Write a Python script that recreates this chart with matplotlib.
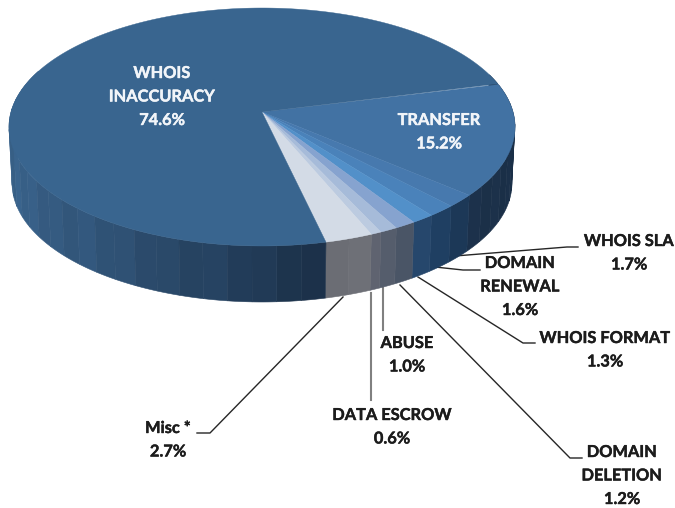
import numpy as np
import matplotlib
matplotlib.use("Agg")
import matplotlib.pyplot as plt
import matplotlib.patheffects as pe
from matplotlib.colors import to_rgb

# Slice data, clockwise from the top of the TRANSFER slice
categories = ["TRANSFER", "WHOIS SLA", "DOMAIN\nRENEWAL", "WHOIS FORMAT", "DOMAIN\nDELETION",
              "ABUSE", "DATA ESCROW", "Misc *", "WHOIS\nINACCURACY"]
shares = [15.2, 1.7, 1.6, 1.3, 1.2, 1.0, 0.6, 2.7, 74.6]

top_colors = ["#4272a3", "#4779ae", "#4a82ba", "#5290c9", "#86a3cf", "#a6bbd9", "#bccbe0", "#d3dbe6", "#39658f"]
side_colors = ["#1b3049", "#1c3857", "#1f3f62", "#26476c", "#4a5566", "#555d6c", "#5f6370", "#6e7077", "#2a4d72"]

label_xy = [(439, 121), (629, 242), (520, 264), (605, 339), (622, 453), (407, 344), (392, 416), (168, 429), (162, 74)]
leaders = [
    None,
    [(455, 256), (567, 247), (578, 247)],
    [(435, 267), (463, 270), (480, 270)],
    [(418, 277), (523, 343), (535, 343)],
    [(400, 285), (570, 458), (582, 458)],
    [(383, 288), (383, 330)],
    [(371, 293), (371, 400)],
    [(343, 297), (210, 433), (197, 433)],
    None,
]

# Perspective of the pie, in pixels
HUB_X, HUB_Y = 262, 112
SCALE_X, SCALE_Y = 251, 117.1
TILT = 0.126
DEPTH = 56
START = 14
LINE_STEP = 23.5

plt.rcParams["font.family"] = ["Lato", "DejaVu Sans"]


def rim(phi, depth=0):
    """Project a point of the pie's rim (angle in degrees) to the picture."""
    a = np.radians(phi)
    w = 1 + TILT * np.sin(a)
    shrink = 1 - 0.012 * depth / DEPTH
    return HUB_X + SCALE_X * shrink * np.cos(a) / w, HUB_Y + depth - SCALE_Y * np.sin(a) / w


def shade(color, amount):
    return tuple(min(1, c * amount) for c in to_rgb(color))


fig = plt.figure(figsize=(6.75, 5.08), dpi=100)
ax = fig.add_axes([0, 0, 1, 1])
ax.set_xlim(0, 675)
ax.set_ylim(508, 0)
ax.axis("off")

edges = START - np.cumsum([0] + shares) * 3.6
band_shades = [1.0, 0.975, 1.02, 0.99, 1.03, 0.97]

# Side of the pie, painted from the back to the front
facets = []
for i in range(len(shares)):
    hi, lo = edges[i], edges[i + 1]
    n = max(1, int(round((hi - lo) / 5))) if shares[i] > 2 else 1
    steps = np.linspace(hi, lo, n + 1)
    for j in range(n):
        facets.append((i, j, steps[j], steps[j + 1]))
facets.sort(key=lambda f: -np.sin(np.radians((f[2] + f[3]) / 2)))

for i, j, hi, lo in facets:
    mid = (hi + lo) / 2
    if np.sin(np.radians(mid)) > 0.35:
        continue
    color = np.array(to_rgb(side_colors[i]))
    if categories[i].endswith("INACCURACY"):
        # light at the far left, dark towards the grey slices
        t = np.clip((rim(mid)[0] - 10) / 310, 0, 1)
        color = (1 - t) * np.array(to_rgb("#39628a")) + t * np.array(to_rgb("#1b3049"))
    phis = np.linspace(hi, lo, 12)
    xs_top, ys_top = rim(phis)
    xs_bot, ys_bot = rim(phis, DEPTH)
    c = shade(color, band_shades[j % len(band_shades)])
    ax.fill(np.r_[xs_top, xs_bot[::-1]], np.r_[ys_top, ys_bot[::-1]], color=c, lw=0.4, zorder=2)

# Top face
for i in range(len(shares)):
    phis = np.linspace(edges[i], edges[i + 1], max(3, int(abs(edges[i] - edges[i + 1]) * 2)))
    xs, ys = rim(phis)
    ax.fill(np.r_[HUB_X, xs], np.r_[HUB_Y, ys], color=top_colors[i], lw=0.3, zorder=3)

# Leader lines
for i, pts in enumerate(leaders):
    if pts is None:
        continue
    px, py = zip(*pts)
    vertical = px[0] == px[-1]
    ax.plot(px, py, color="#808080" if vertical else "#262626", lw=1.5 if vertical else 1.0,
            solid_joinstyle="round", zorder=1)

# Labels
for i, name in enumerate(categories):
    x, y = label_xy[i]
    inside = leaders[i] is None
    color = "#f2f5f9" if inside else "#1c1c1c"
    lines = name.split("\n") + [f"{shares[i]:.1f}%"]
    for k, line in enumerate(lines):
        txt = ax.text(x, y + k * LINE_STEP, line, ha="center", va="center", fontsize=11.8, fontweight="bold",
                      color=color, zorder=5)
        txt.set_path_effects([pe.withStroke(linewidth=0.3, foreground=color)])

fig.savefig("out.png", dpi=100)
